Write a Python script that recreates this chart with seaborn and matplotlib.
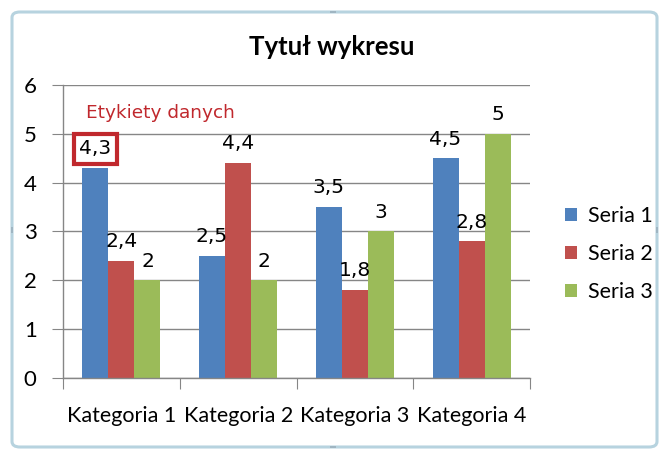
import seaborn as sns
import pandas as pd
import matplotlib
import matplotlib.pyplot as plt
import matplotlib.patches as patches

matplotlib.use('Agg')

categories = ['Kategoria 1', 'Kategoria 2', 'Kategoria 3', 'Kategoria 4']
series_names = ['Seria 1', 'Seria 2', 'Seria 3']
seria_1 = [4.3, 2.5, 3.5, 4.5]
seria_2 = [2.4, 4.4, 1.8, 2.8]
seria_3 = [2, 2, 3, 5]
colors = ['#4F81BD', '#C0504D', '#9BBB59']

W, H = 666, 459


def fmt(v):
    # polish decimal comma
    s = ('%g' % v)
    return s.replace('.', ',')


rows = []
for name, vals in zip(series_names, [seria_1, seria_2, seria_3]):
    for cat, v in zip(categories, vals):
        rows.append({'cat': cat, 'seria': name, 'val': v})
df = pd.DataFrame(rows)

sns.set_style('white')
plt.rcParams['font.family'] = ['Lato', 'DejaVu Sans']
plt.rcParams['text.color'] = 'black'
plt.rcParams['xtick.labelcolor'] = 'black'
plt.rcParams['ytick.labelcolor'] = 'black'

fig = plt.figure(figsize=(W / 100, H / 100), dpi=100)
ax = fig.add_axes([63 / W, 1 - 378 / H, (530 - 63) / W, (378 - 85) / H])

sns.barplot(data=df, x='cat', y='val', hue='seria', palette=colors,
            width=0.67, saturation=1, ax=ax, legend=False, errorbar=None,
            linewidth=0, edgecolor='none')

ax.set_ylim(0, 6)
ax.set_xlim(-0.5, 3.5)
ax.set_yticks(range(7))
ax.yaxis.grid(True, color='#868686', linewidth=1)
ax.set_axisbelow(True)
ax.set_xlabel('')
ax.set_ylabel('')
for side in ['top', 'right']:
    ax.spines[side].set_visible(False)
for side in ['left', 'bottom']:
    ax.spines[side].set_color('#868686')
    ax.spines[side].set_linewidth(1)

# category separators as ticks
ax.set_xticks([-0.5, 0.5, 1.5, 2.5, 3.5])
ax.set_xticklabels([])
ax.set_xticks(range(4), minor=True)
ax.set_xticklabels(categories, minor=True, fontsize=15.5, color='black')
ax.tick_params(axis='x', which='major', length=8, color='#868686', direction='out', bottom=True)
ax.tick_params(axis='x', which='minor', length=0, pad=20)
ax.tick_params(axis='y', length=8, color='#868686', direction='out', left=True,
               labelsize=16, pad=11, labelcolor='black')

label_texts = []
for cont in ax.containers:
    texts = ax.bar_label(cont, labels=[fmt(v) for v in cont.datavalues],
                         padding=7, fontsize=14.5, color='black', family=['DejaVu Sans'])
    label_texts.append(texts)

# highlight first data label
label_texts[0][0].set_bbox(dict(boxstyle='square,pad=0.28', facecolor='none',
                                edgecolor='#C0282D', linewidth=3))

ax.text((86 - 63) / (530 - 63), (378 - 113) / (378 - 85), 'Etykiety danych',
        transform=ax.transAxes, color='#C0282D', fontsize=13.3,
        family=['DejaVu Sans'], va='center', ha='left')

fig.text(332 / W, 1 - 47 / H, 'Tytuł wykresu', ha='center', va='center',
         fontsize=18.5, fontweight='bold', color='black')

handles = [patches.Patch(facecolor=c, edgecolor='none') for c in colors]
fig.legend(handles, series_names, loc='center left',
           bbox_to_anchor=(546 / W, 1 - 254 / H), frameon=False,
           fontsize=15.5, handlelength=0.55, handleheight=0.55,
           handletextpad=0.5, labelspacing=0.85, labelcolor='black')

# chart area frame
frame = patches.FancyBboxPatch((12 / W, 12 / H), (657 - 12) / W, (447 - 12) / H,
                               boxstyle='round,pad=0,rounding_size=0.012',
                               transform=fig.transFigure, facecolor='none',
                               edgecolor='#B7D3DF', linewidth=2.2)
fig.patches.append(frame)
for (px, py, horiz) in [(333, 12, True), (333, 447, True), (12, 230, False), (657, 230, False)]:
    w, h = (6, 2) if horiz else (2, 6)
    fig.patches.append(patches.Rectangle(((px - w / 2) / W, 1 - (py + h / 2) / H), w / W, h / H,
                                         transform=fig.transFigure,
                                         facecolor='#9FB5C2', edgecolor='none'))

fig.savefig('out.png', dpi=100)
